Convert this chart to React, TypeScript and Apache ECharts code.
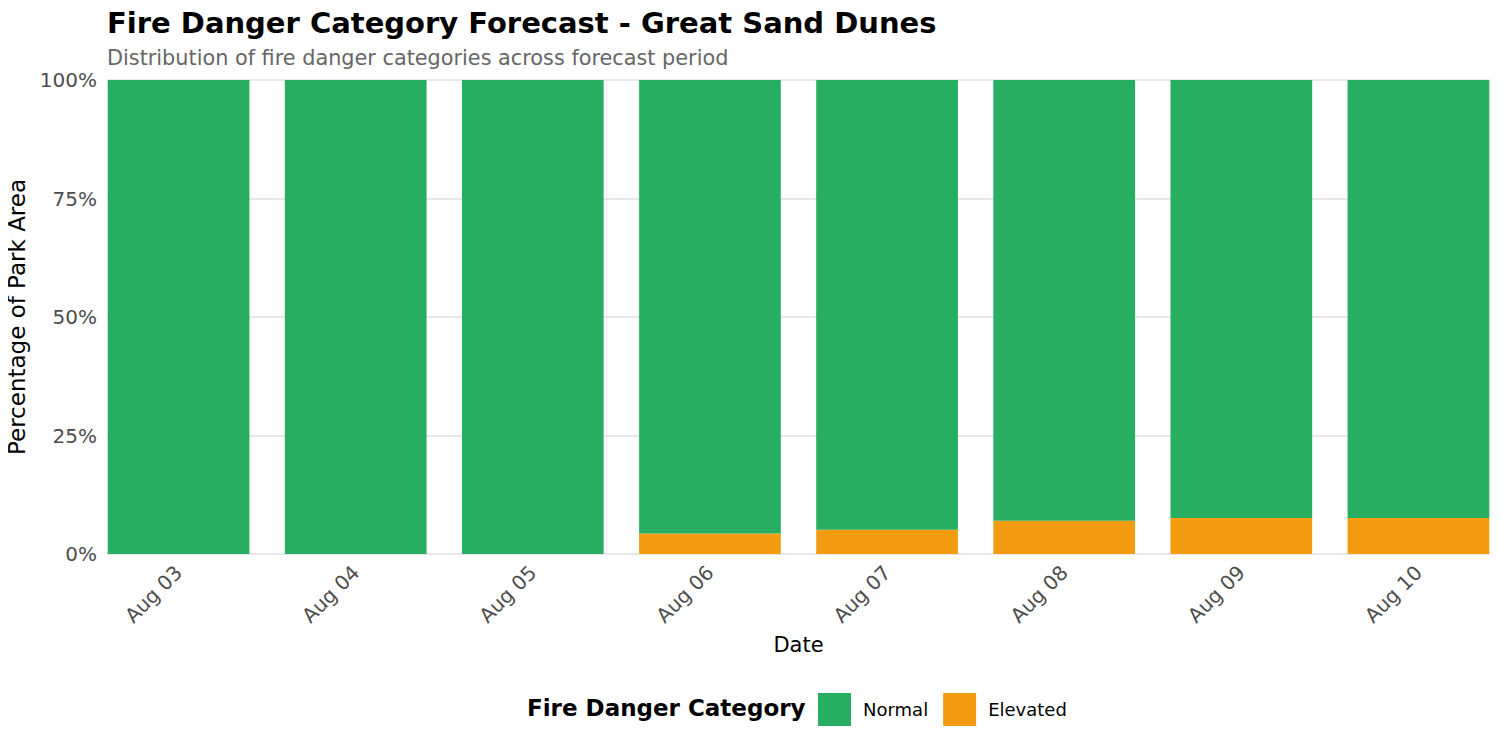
import React, { useEffect, useRef } from 'react';
import * as echarts from 'echarts';

const dates = ['Aug 03', 'Aug 04', 'Aug 05', 'Aug 06', 'Aug 07', 'Aug 08', 'Aug 09', 'Aug 10'];
const normalPct = [100, 100, 100, 95.7, 94.9, 93.0, 92.4, 92.4];
const elevatedPct = [0, 0, 0, 4.3, 5.1, 7.0, 7.6, 7.6];
const yTicks = [0, 25, 50, 75, 100];

const GREEN = '#27ae60';
const ORANGE = '#f39c12';
const FONT = 'DejaVu Sans';

export default function App() {
  const chartRef = useRef<HTMLDivElement>(null);

  useEffect(() => {
    if (!chartRef.current) return;
    const chart = echarts.init(chartRef.current, undefined, { renderer: 'svg' });

    const yMin = yTicks[0];
    const yMax = yTicks[yTicks.length - 1];

    const option: echarts.EChartsOption = {
      animation: false,
      backgroundColor: '#ffffff',
      textStyle: { fontFamily: FONT },
      title: {
        text: 'Fire Danger Category Forecast - Great Sand Dunes',
        subtext: 'Distribution of fire danger categories across forecast period',
        left: 102,
        top: 3,
        itemGap: 10,
        textStyle: { fontFamily: FONT, fontSize: 29, fontWeight: 'bold', color: '#000000' },
        subtextStyle: { fontFamily: FONT, fontSize: 20.8, color: '#666666' },
      },
      // grid 0: panel with gridlines and y labels; grid 1: bars (bands overhang the panel edges)
      grid: [
        { left: 107, right: 11, top: 80, bottom: 196, outerBoundsMode: 'none' },
        { left: 90, width: 1417, top: 80, bottom: 196, outerBoundsMode: 'none' },
      ] as any,
      legend: {
        data: ['Normal', 'Elevated'],
        left: 813,
        top: 688,
        itemWidth: 33,
        itemHeight: 33,
        itemGap: 15,
        icon: 'rect',
        textStyle: { fontFamily: FONT, fontSize: 18, color: '#000000', padding: [0, 0, 0, 7] },
      },
      graphic: [
        {
          type: 'text',
          left: 527,
          top: 696,
          style: {
            text: 'Fire Danger Category',
            font: `bold 23px "${FONT}"`,
            fill: '#000000',
          },
        },
      ],
      xAxis: [
        {
          type: 'value',
          gridIndex: 0,
          min: 0,
          max: 1,
          show: false,
        },
        {
          type: 'category',
          gridIndex: 1,
          data: dates,
          name: 'Date',
          nameLocation: 'middle',
          nameGap: 80,
          nameTextStyle: { fontFamily: FONT, fontSize: 21, color: '#000000' },
          axisLine: { show: false },
          axisTick: { show: false },
          axisLabel: { rotate: 45, fontSize: 20, color: '#4d4d4d', margin: 15, fontFamily: FONT },
          splitLine: { show: false },
        },
      ],
      yAxis: [
        {
          type: 'value',
          gridIndex: 0,
          min: yMin,
          max: yMax,
          interval: 25,
          name: 'Percentage of Park Area',
          nameLocation: 'middle',
          nameGap: 72,
          nameTextStyle: { fontFamily: FONT, fontSize: 23, color: '#000000' },
          axisLine: { show: false },
          axisTick: { show: false },
          axisLabel: {
            fontSize: 20,
            color: '#4d4d4d',
            margin: 10,
            fontFamily: FONT,
            formatter: (v: number) => `${v}%`,
          },
          splitLine: { show: true, lineStyle: { color: '#e0e0e0', width: 1.5 } },
        },
        {
          type: 'value',
          gridIndex: 1,
          min: yMin,
          max: yMax,
          show: false,
          splitLine: { show: false },
        },
      ],
      series: [
        {
          name: 'Elevated',
          type: 'bar',
          stack: 'total',
          xAxisIndex: 1,
          yAxisIndex: 1,
          data: elevatedPct,
          barWidth: '80%',
          itemStyle: { color: ORANGE },
        },
        {
          name: 'Normal',
          type: 'bar',
          stack: 'total',
          xAxisIndex: 1,
          yAxisIndex: 1,
          data: normalPct,
          barWidth: '80%',
          itemStyle: { color: GREEN },
        },
      ],
    };

    chart.setOption(option);

    const handleResize = () => chart.resize();
    window.addEventListener('resize', handleResize);
    return () => {
      window.removeEventListener('resize', handleResize);
      chart.dispose();
    };
  }, []);

  return <div ref={chartRef} style={{ width: 1500, height: 750, margin: -8 }} />;
}
